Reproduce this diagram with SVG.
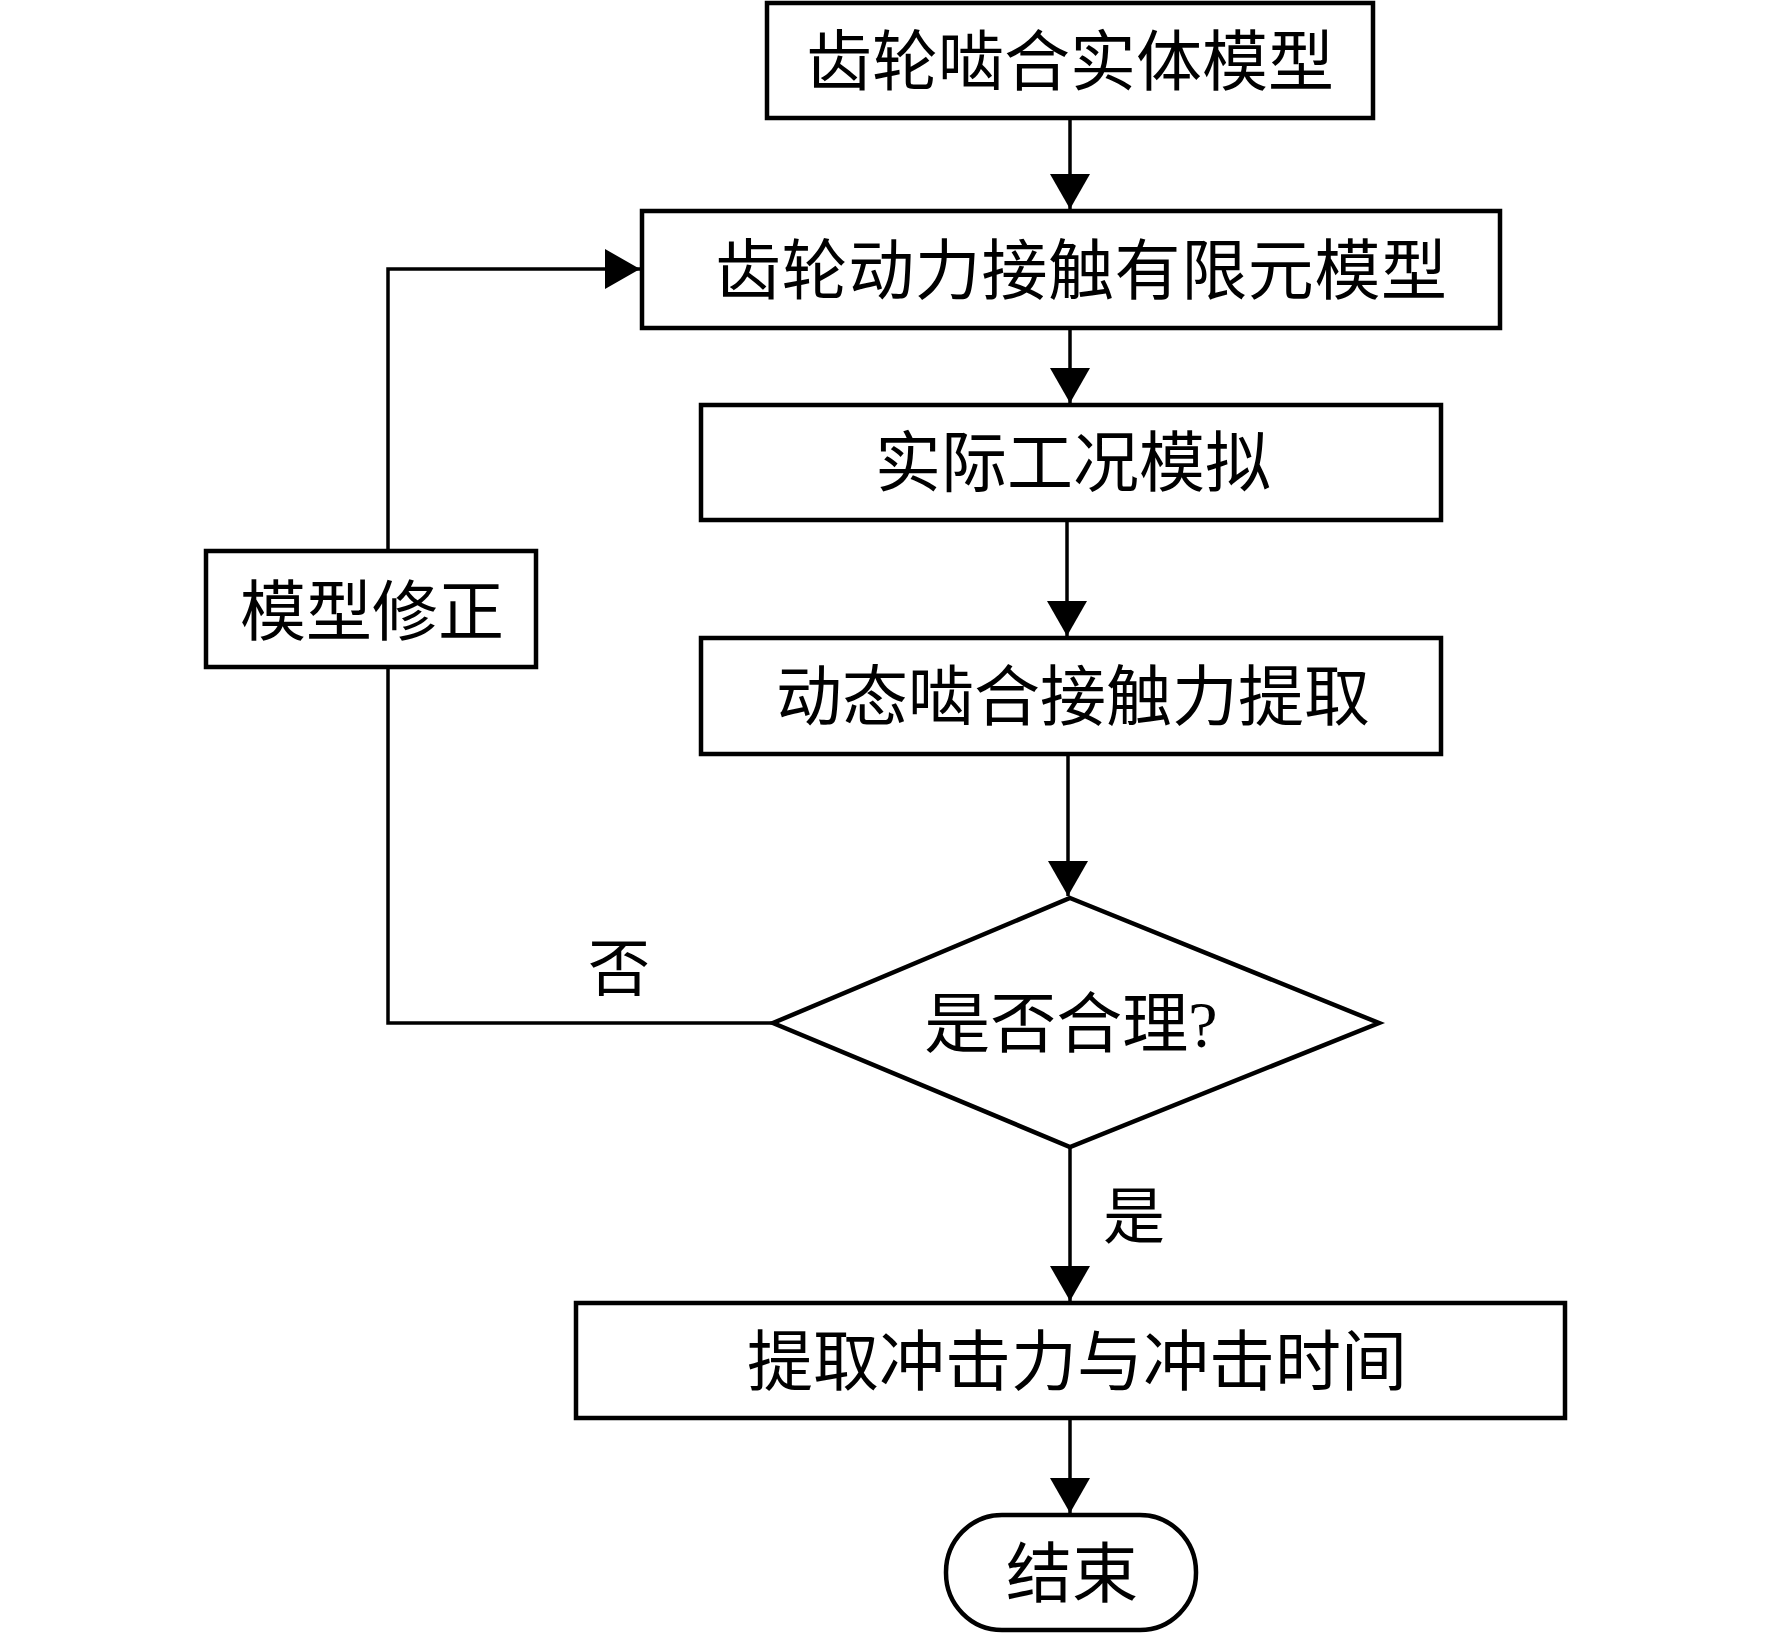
<svg xmlns="http://www.w3.org/2000/svg" width="1772" height="1634" viewBox="0 0 1772 1634">
<defs>
<style>
.box{fill:#fff;stroke:#000;stroke-width:4.5}
.ln{fill:none;stroke:#000;stroke-width:3.5}
.t{font-family:"Liberation Serif","Noto Sans CJK SC",serif;font-size:66px;fill:#000;text-anchor:middle;dominant-baseline:central}
.lb{font-family:"Liberation Serif","Noto Sans CJK SC",serif;font-size:62px;fill:#000;text-anchor:middle;dominant-baseline:central}
</style>
<marker id="ah" markerUnits="userSpaceOnUse" markerWidth="36" markerHeight="40" refX="35" refY="20" orient="auto">
<path d="M0,0 L35,20 L0,40 Z" fill="#000"/>
</marker>
</defs>
<rect width="1772" height="1634" fill="#fff"/>
<g id="connectors">
<line class="ln" x1="1070" y1="118" x2="1070" y2="209" marker-end="url(#ah)"/>
<line class="ln" x1="1070" y1="328" x2="1070" y2="403" marker-end="url(#ah)"/>
<line class="ln" x1="1067" y1="520" x2="1067" y2="636" marker-end="url(#ah)"/>
<line class="ln" x1="1068" y1="754" x2="1068" y2="896" marker-end="url(#ah)"/>
<line class="ln" x1="1070" y1="1147" x2="1070" y2="1301" marker-end="url(#ah)"/>
<line class="ln" x1="1070" y1="1418" x2="1070" y2="1513" marker-end="url(#ah)"/>
<polyline class="ln" points="773,1023 388,1023 388,667"/>
<polyline class="ln" points="388,551 388,269 640,269" marker-end="url(#ah)"/>
<text class="lb" x="619" y="970">否</text>
<text class="lb" x="1134" y="1218">是</text>
</g>
<g id="n1"><rect class="box" x="767" y="3" width="606" height="115"/><text class="t" x="1070" y="62">齿轮啮合实体模型</text></g>
<g id="n2"><rect class="box" x="642" y="211" width="858" height="117"/><text class="t" x="1081" y="271" textLength="732" lengthAdjust="spacing">齿轮动力接触有限元模型</text></g>
<g id="n3"><rect class="box" x="701" y="405" width="740" height="115"/><text class="t" x="1073" y="463">实际工况模拟</text></g>
<g id="n4"><rect class="box" x="701" y="638" width="740" height="116"/><text class="t" x="1073" y="697">动态啮合接触力提取</text></g>
<g id="n5"><rect class="box" x="206" y="551" width="330" height="116"/><text class="t" x="372" y="612">模型修正</text></g>
<g id="n6"><polygon class="box" points="1070,898 1379,1023 1070,1147 773,1023"/><text class="t" x="1071" y="1024">是否合理?</text></g>
<g id="n7"><rect class="box" x="576" y="1303" width="989" height="115"/><text class="t" x="1077" y="1362">提取冲击力与冲击时间</text></g>
<g id="n8"><rect class="box" x="946" y="1515" width="250" height="115" rx="56" ry="57"/><text class="t" x="1072" y="1574">结束</text></g>
</svg>
